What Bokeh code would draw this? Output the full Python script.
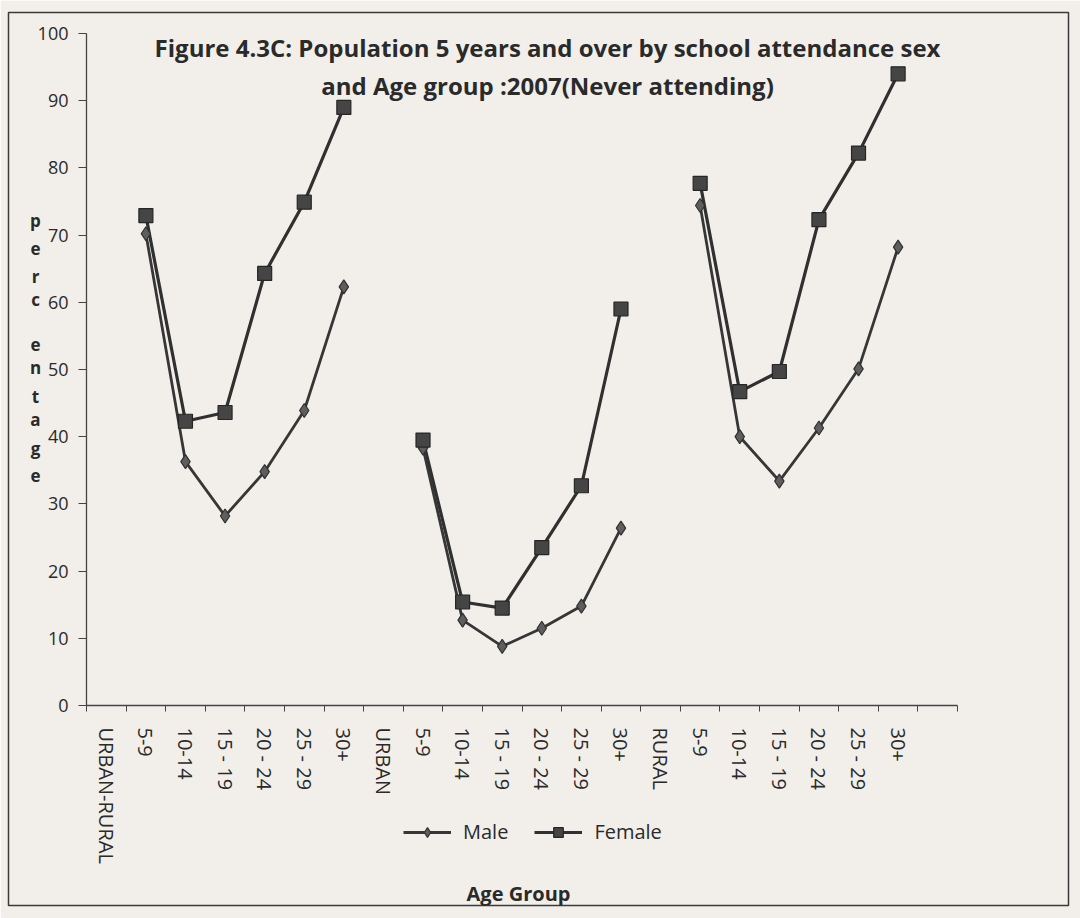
from bokeh.plotting import figure
from bokeh.models import FixedTicker, Label, Legend, LegendItem, Range1d, ColumnDataSource
from bokeh.embed import file_html
from bokeh.resources import INLINE

# ---------------- data ----------------
categories = ["URBAN-RURAL", "5-9", "10-14", "15 - 19", "20 - 24", "25 - 29", "30+",
              "URBAN", "5-9", "10-14", "15 - 19", "20 - 24", "25 - 29", "30+",
              "RURAL", "5-9", "10-14", "15 - 19", "20 - 24", "25 - 29", "30+", ""]

male_urban_rural = [70.2, 36.3, 28.2, 34.8, 43.9, 62.3]
female_urban_rural = [72.9, 42.3, 43.6, 64.3, 74.9, 89.0]
male_urban = [38.3, 12.7, 8.8, 11.5, 14.8, 26.4]
female_urban = [39.5, 15.4, 14.5, 23.5, 32.7, 59.0]
male_rural = [74.4, 40.0, 33.4, 41.3, 50.1, 68.2]
female_rural = [77.7, 46.7, 49.7, 72.3, 82.2, 94.0]

y_ticks = [0, 10, 20, 30, 40, 50, 60, 70, 80, 90, 100]

nan = float("nan")
male = [nan] + male_urban_rural + [nan] + male_urban + [nan] + male_rural + [nan]
female = [nan] + female_urban_rural + [nan] + female_urban + [nan] + female_rural + [nan]
xs = list(range(len(categories)))
src = ColumnDataSource(dict(x=xs, male=male, female=female))

# ---------------- layout (pixels) ----------------
W, H = 1080, 918
FL, FR, FT, FB = 8, 1068, 12, 905          # outer chart box (frame)
X0PX, X1PX = 86, 957                       # x = -0.5 .. 21.5
Y0PX, Y100PX = 705, 33                     # y = 0 .. 100
NC = len(categories)

def dx(px):
    return -0.5 + (px - X0PX) * NC / (X1PX - X0PX)

def dy(py):
    return (Y0PX - py) * 100.0 / (Y0PX - Y100PX)

FONT = "Open Sans"
TXT = "#2a2a2a"
BG = "#f2efea"

p = figure(width=W, height=H, output_backend="svg", toolbar_location=None,
           x_range=Range1d(dx(FL), dx(FR)), y_range=Range1d(dy(FB), dy(FT)),
           min_border_left=FL, min_border_right=W - FR, min_border_top=FT, min_border_bottom=H - FB,
           background_fill_color=BG, border_fill_color=BG)
p.outline_line_color = "#3a3a3a"
p.outline_line_width = 1.5
p.grid.grid_line_color = None

# lines & markers
lf = p.line("x", "female", source=src, line_color="#303030", line_width=3.2)
lm = p.line("x", "male", source=src, line_color="#363636", line_width=2.8)
sm = p.scatter("x", "male", source=src, marker="diamond", size=14,
               fill_color="#5e5e5e", line_color="#303030", line_width=1.2)
sf = p.scatter("x", "female", source=src, marker="square", size=14,
               fill_color="#454545", line_color="#262626", line_width=1.2)

# x axis
xa = p.xaxis[0]
xa.fixed_location = 0
xa.bounds = (-0.5, NC - 0.5)
xa.ticker = FixedTicker(ticks=xs, minor_ticks=[i - 0.5 for i in range(NC + 1)])
xa.major_label_overrides = {i: c for i, c in enumerate(categories)}
xa.major_label_orientation = "vertical"
xa.major_tick_in = 0
xa.major_tick_out = 0
xa.minor_tick_in = 0
xa.minor_tick_out = 6
xa.minor_tick_line_color = "#444444"
xa.axis_line_color = "#444444"
xa.axis_line_width = 1.3
xa.major_label_text_font = FONT
xa.major_label_text_font_size = "20px"
xa.major_label_text_color = TXT
xa.major_label_standoff = 16

# y axis
ya = p.yaxis[0]
ya.fixed_location = -0.5
ya.bounds = (0, 100)
ya.ticker = FixedTicker(ticks=y_ticks)
ya.major_tick_in = 0
ya.major_tick_out = 8
ya.minor_tick_out = 0
ya.minor_tick_in = 0
ya.major_tick_line_color = "#444444"
ya.axis_line_color = "#444444"
ya.axis_line_width = 1.3
ya.major_label_text_font = FONT
ya.major_label_text_font_size = "18px"
ya.major_label_text_color = TXT
ya.major_label_standoff = 10

# stacked y-axis title "percentage"
letters = list("percentage")
letter_py = [220, 248, 276, 299, 344, 367, 396, 419, 448, 475]
for ch, py in zip(letters, letter_py):
    p.add_layout(Label(x=dx(35), y=dy(py), text=ch, text_font=FONT, text_font_size="17px",
                       text_font_style="bold", text_color=TXT, text_align="center",
                       text_baseline="middle"))

# title (inside plot area)
for line, py in [("Figure 4.3C: Population 5 years and over by school attendance sex", 47),
                 ("and Age group :2007(Never attending)", 85)]:
    p.add_layout(Label(x=dx(547), y=dy(py), text=line, text_font=FONT, text_font_size="24px",
                       text_font_style="bold", text_color=TXT, text_align="center",
                       text_baseline="middle"))

# x-axis title
p.add_layout(Label(x=dx(518), y=dy(893), text="Age Group", text_font=FONT, text_font_size="20px",
                   text_font_style="bold", text_color=TXT, text_align="center", text_baseline="middle"))

# legend
legend = Legend(items=[LegendItem(label="Male", renderers=[lm, sm]),
                       LegendItem(label="Female", renderers=[lf, sf])],
                orientation="horizontal", location=(403 - FL, FB - 845),
                glyph_width=48, glyph_height=24, label_standoff=12, spacing=26,
                padding=0, margin=0, background_fill_alpha=0, border_line_color=None,
                label_text_font=FONT, label_text_font_size="20px", label_text_color=TXT)
p.add_layout(legend, "center")

open("out.html", "w").write(file_html(p, INLINE))
